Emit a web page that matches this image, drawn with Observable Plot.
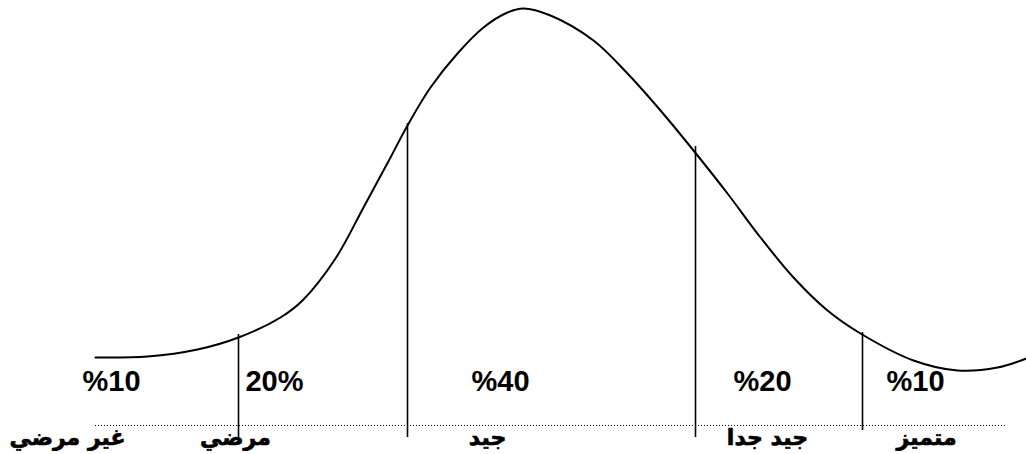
<!DOCTYPE html>
<html>
<head>
<meta charset="utf-8">
<script src="https://cdn.jsdelivr.net/npm/d3@7"></script>
<script src="https://cdn.jsdelivr.net/npm/@observablehq/plot@0.6"></script>
<style>
  html, body { margin: 0; padding: 0; background: #fff; }
  #chart svg { display: block; }
</style>
</head>
<body>
<div id="chart"></div>
<script>
// Bell curve (score position, height above the dotted baseline)
const curveX = [95, 147, 197, 238, 280, 302, 335, 363, 390, 407, 430, 457, 483, 507, 523, 550, 593, 627, 660, 693, 727, 760, 793, 827, 860, 913, 957, 997, 1026];
const curveY = [68, 69, 76, 88, 108, 125, 167, 218, 268, 300, 338, 372, 398, 413, 417, 410, 385, 352, 315, 275, 232, 188, 148, 115, 92, 65, 55, 58, 67];

// Cut-off lines between grade bands
const cutX = [238, 407, 695, 862];
const cutTop = [91, 302, 279, 93];
const cutBottom = [-12, -12, -12, -5];

// Band percentages and grade names
const pctLabels = ["%10", "20%", "%40", "%20", "%10"];
const pctX = [111, 274, 500, 762, 915];
const gradeLabels = ["غير مرضي", "مرضي", "جيد", "جيد جدا", "متميز"];
const gradeX = [67, 235, 487, 767, 926];

// Baseline extent
const baseStart = 95, baseEnd = 1005;

const curve = curveX.map((x, i) => ({x, y: curveY[i]}));
const cuts = cutX.map((x, i) => ({x, y1: cutBottom[i], y2: cutTop[i]}));
const pcts = pctLabels.map((t, i) => ({t, x: pctX[i]}));
const grades = gradeLabels.map((t, i) => ({t, x: gradeX[i]}));

const chart = Plot.plot({
  width: 1026,
  height: 454,
  marginTop: 0,
  marginLeft: 0,
  marginRight: 0,
  marginBottom: 29,
  x: {domain: [0, 1026], axis: null},
  y: {domain: [0, 425], axis: null},
  style: {background: "#fff", overflow: "visible"},
  marks: [
    Plot.ruleY([0], {x1: baseStart, x2: baseEnd, stroke: "#000", strokeWidth: 1, strokeDasharray: "1,2"}),
    Plot.ruleX(cuts, {x: "x", y1: "y1", y2: "y2", stroke: "#000", strokeWidth: 1.6}),
    Plot.line(curve, {x: "x", y: "y", curve: "catmull-rom", stroke: "#000", strokeWidth: 2}),
    Plot.text(pcts, {x: "x", y: 44, text: "t", fontSize: 29, fontWeight: "bold", fill: "#000",
      fontFamily: "'Liberation Sans', Arial, sans-serif", textAnchor: "middle", lineAnchor: "middle"}),
    Plot.text(grades, {x: "x", y: -12, text: "t", fontSize: 22, fontWeight: "bold", fill: "#000",
      stroke: "#000", strokeWidth: 0.7,
      fontFamily: "'DejaVu Sans', sans-serif", textAnchor: "middle", lineAnchor: "middle"})
  ]
});
document.getElementById("chart").appendChild(chart);
</script>
</body>
</html>
